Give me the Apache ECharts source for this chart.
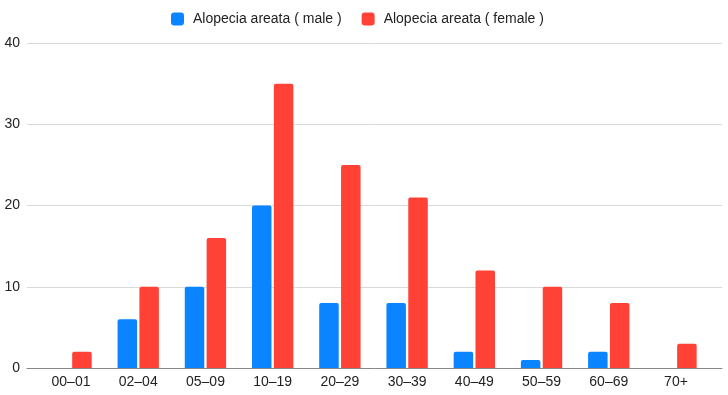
<!DOCTYPE html>
<html><head><meta charset="utf-8">
<script src="https://cdn.jsdelivr.net/npm/echarts@6/dist/echarts.min.js"></script>
<style>html,body{margin:0;padding:0;background:#fff}#c{width:728px;height:395px}</style>
</head><body><div id="c"></div>
<script>
const categories = ['00–01','02–04','05–09','10–19','20–29','30–39','40–49','50–59','60–69','70+'];
const maleValues = [0,6,10,20,8,8,2,1,2,0];
const femaleValues = [2,10,16,35,25,21,12,10,8,3];
const seriesNames = ['Alopecia areata ( male )','Alopecia areata ( female )'];
const yTicks = {min:0,max:40,interval:10};

const chart = echarts.init(document.getElementById('c'));
const font = '"Liberation Sans", Arial, sans-serif';
chart.setOption({
  animation:false,
  textStyle:{fontFamily:font},
  legend:{top:7,left:166,padding:5,itemWidth:13,itemHeight:13,itemGap:20,icon:'roundRect',
    textStyle:{fontSize:14,color:'#222',fontFamily:font,padding:[0,0,0,4]},
    data:seriesNames},
  grid:[
    {left:27,right:6,top:43,bottom:27},
    {left:37.4,right:18.4,top:43,bottom:27}
  ],
  xAxis:[
    {gridIndex:0,type:'value',min:0,max:1,
      axisLine:{show:true,lineStyle:{color:'#888',width:1}},axisTick:{show:false},
      axisLabel:{show:false},splitLine:{show:false}},
    {gridIndex:1,type:'category',data:categories,
      axisLine:{show:false},axisTick:{show:false},
      axisLabel:{fontSize:14,color:'#222',margin:7,fontFamily:font}}
  ],
  yAxis:[
    {gridIndex:0,type:'value',min:yTicks.min,max:yTicks.max,interval:yTicks.interval,
      axisLine:{show:false},axisTick:{show:false},
      axisLabel:{fontSize:14,color:'#222',margin:7,fontFamily:font},
      splitLine:{lineStyle:{color:'#d9d9d9'}}},
    {gridIndex:1,type:'value',min:yTicks.min,max:yTicks.max,interval:yTicks.interval,show:false,splitLine:{show:false}}
  ],
  series:[
    {name:seriesNames[0],type:'bar',xAxisIndex:1,yAxisIndex:1,data:maleValues,z:3,
      barWidth:19.5,barGap:'12%',itemStyle:{color:'#0a84ff',borderRadius:[2,2,0,0]}},
    {name:seriesNames[1],type:'bar',xAxisIndex:1,yAxisIndex:1,data:femaleValues,z:3,
      barWidth:19.5,barGap:'12%',itemStyle:{color:'#ff4136',borderRadius:[2,2,0,0]}}
  ]
});
</script></body></html>
